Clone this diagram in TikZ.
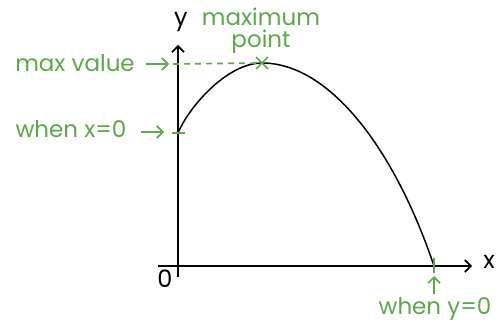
\documentclass[tikz,border=0pt]{standalone}
\usepackage{fontspec}
\setmainfont{Poppins}
\usepackage{xcolor}
\usetikzlibrary{arrows.meta,positioning,calc}
\definecolor{hand}{RGB}{92,170,70}
\begin{document}
\begin{tikzpicture}[x=1pt,y=-1pt,>={Straight Barb[length=6pt,width=12pt]},
  axis/.style={line width=1.7pt,black},
  note/.style={text=hand,font=\fontsize{23}{25}\selectfont,inner sep=0pt},
  mark line/.style={line width=1.7pt,hand},
  lbl/.style={font=\fontsize{24}{26}\selectfont,inner sep=0pt}]
\useasboundingbox (0,0) rectangle (499,329);
% axes
\coordinate (o) at (178,266);
\coordinate (ybot) at (178,277);
\coordinate (ytop) at (178,45);
\coordinate (xleft) at (158,266);
\coordinate (xright) at (472,266);
\draw[axis,->] (ybot) -- (ytop);
\draw[axis,->] (xleft) -- (xright);
\node[lbl] (ylbl) at (181,22) {y};
\node[lbl] (xlbl) at (489,262) {x};
\node[lbl] (zero) at (165,279) {0};
% curve
\coordinate (yint) at (178,133);
\coordinate (peak) at (262,63);
\coordinate (root) at (434,266);
\draw[line width=1.5pt] (yint) .. controls (190,105) and (228,63) .. (peak)
  .. controls (330,63) and (395,150) .. (root);
% max value
\node[note] (maxval) at (75,63) {max value};
\coordinate (maxarr) at (169,64);
\draw[mark line,->] (146,64) -- (maxarr);
\draw[mark line,dashed,dash pattern=on 6pt off 5pt] (173,64) -- (peak);
\draw[mark line] ($(peak)+(-6,-6)$) -- ($(peak)+(6,6)$);
\draw[mark line] ($(peak)+(-6,6)$) -- ($(peak)+(6,-6)$);
\node[note,align=center] (maxpt) at (261,31) {maximum\\[-3pt]point};
% when x=0
\node[note] (xzero) at (71,129) {when x=0};
\coordinate (xzarr) at (164,132);
\draw[mark line,->] (141,132) -- (xzarr);
\draw[mark line] (172,133) -- (185,133);
% when y=0
\node[note] (yzero) at (435,309) {when y=0};
\coordinate (yzarr) at (434,276);
\draw[mark line,->] (434,294) -- (yzarr);
\draw[mark line] (434,258) -- (434,273);
\end{tikzpicture}
\end{document}
